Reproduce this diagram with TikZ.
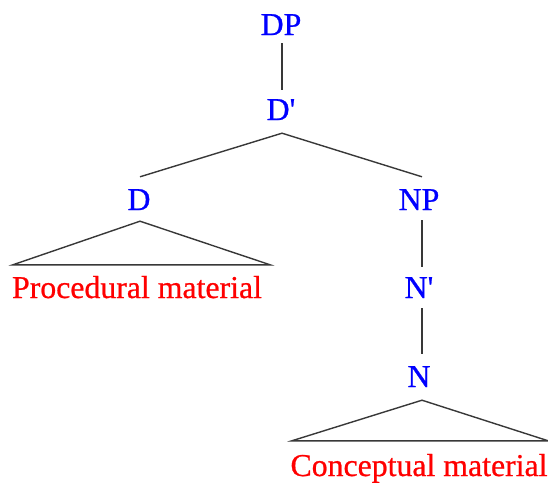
\documentclass[tikz,border=0pt]{standalone}
\usepackage{fontspec}
\setmainfont{Liberation Serif}
\newfontfamily\labfont[FakeBold=0.7]{Liberation Serif}
\begin{document}
\begin{tikzpicture}[x=1pt,y=-1pt,
  lab/.style={font=\labfont\fontsize{31.8}{36}\selectfont, text=blue, inner sep=0pt, anchor=base, text height=21pt, text depth=0pt},
  mat/.style={lab, text=red, text depth=7pt},
  edge/.style={draw=black!78, line width=1.4pt, line join=miter}]
\useasboundingbox (0,0) rectangle (548,482);
\node[lab] (DP) at (281,35) {DP};
\node[lab] (Dbar) at (281,120) {D'};
\node[lab] (D) at (139,210) {D};
\node[lab] (NP) at (419,210) {NP};
\node[lab] (Nbar) at (419,298) {N'};
\node[lab] (N) at (419,387) {N};
\node[mat] (PM) at (137,298) {Procedural material};
\node[mat] (CM) at (419,476) {Conceptual material};
\draw[edge] ([xshift=1pt,yshift=-8pt]DP.south) -- ([xshift=1pt,yshift=9pt]Dbar.north);
\draw[edge] ([xshift=1pt,yshift=12pt]D.north) -- ([xshift=1pt,yshift=-13pt]Dbar.south) -- ([xshift=3pt,yshift=12pt]NP.north);
\draw[edge] ([xshift=3pt,yshift=-10pt]NP.south) -- ([xshift=3pt,yshift=10pt]Nbar.north);
\draw[edge] ([xshift=3pt,yshift=-10pt]Nbar.south) -- ([xshift=3pt,yshift=12pt]N.north);
\draw[edge] ([xshift=1pt,yshift=-11pt]D.south) -- ([xshift=1pt,yshift=12pt]PM.north west) -- ([xshift=8pt,yshift=12pt]PM.north east) -- cycle;
\draw[edge] ([xshift=3pt,yshift=-13pt]N.south) -- ([xshift=1.5pt,yshift=14pt]CM.north west) -- ([xshift=0.5pt,yshift=14pt]CM.north east) -- cycle;
\end{tikzpicture}
\end{document}
